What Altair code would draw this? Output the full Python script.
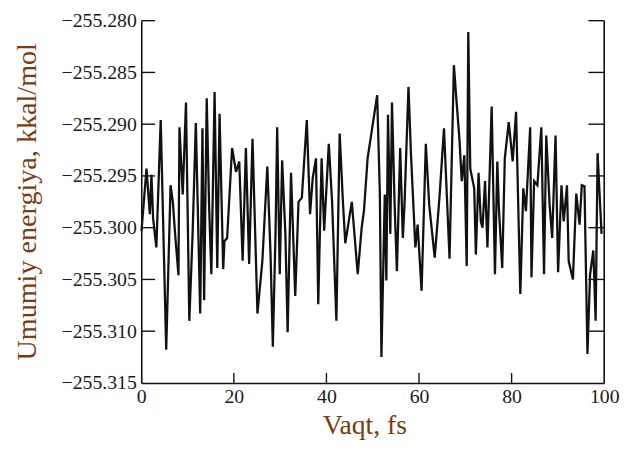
import altair as alt
import pandas as pd

# Time (fs) and total energy (kcal/mol)
time_fs = [
    0.06, 1.13, 1.85, 2.20, 2.56, 3.26, 4.20, 5.39, 6.33, 6.82,
    7.31, 8.04, 8.25, 8.96, 9.66, 10.38, 11.09, 11.79, 12.73, 13.22,
    13.58, 14.14, 14.65, 15.14, 15.84, 16.42, 16.91, 17.70, 17.97, 18.55,
    19.62, 20.47, 21.17, 21.90, 22.60, 23.30, 24.03, 25.10, 26.16, 27.23,
    27.93, 28.42, 29.00, 29.36, 29.91, 30.43, 31.13, 31.62, 32.35, 33.26,
    33.97, 34.69, 35.76, 36.46, 37.04, 37.74, 38.23, 38.96, 39.51, 40.51,
    41.22, 42.15, 42.86, 43.56, 44.07, 45.48, 46.76, 47.61, 48.12, 48.89,
    50.96, 51.54, 51.88, 52.60, 52.94, 53.30, 53.80, 54.16, 54.73, 55.22,
    55.93, 56.50, 56.86, 57.72, 58.27, 59.21, 59.70, 60.55, 61.47, 62.20,
    63.39, 64.46, 65.39, 66.59, 67.53, 68.17, 68.72, 69.23, 69.79, 70.30,
    70.64, 71.07, 71.92, 72.28, 72.86, 73.35, 73.71, 74.26, 74.78, 75.69,
    76.40, 76.91, 77.25, 77.97, 78.53, 79.38, 80.23, 80.96, 81.88, 82.52,
    83.09, 84.01, 84.29, 84.86, 85.57, 86.42, 87.00, 87.48, 88.21, 88.76,
    89.49, 90.04, 90.77, 91.26, 91.96, 92.32, 93.24, 93.97, 94.67, 95.16,
    95.74, 96.38, 96.95, 97.65, 98.15, 98.57, 99.08, 99.43,
]
energy = [
    -255.3003, -255.2943, -255.2987, -255.2949, -255.2991, -255.3019, -255.2896, -255.3118, -255.2959, -255.2975,
    -255.3006, -255.3046, -255.2903, -255.2968, -255.2879, -255.3090, -255.3006, -255.2899, -255.3083, -255.2904,
    -255.3070, -255.2875, -255.2978, -255.3045, -255.2869, -255.3039, -255.2890, -255.3040, -255.3013, -255.3010,
    -255.2923, -255.2946, -255.2936, -255.3032, -255.2923, -255.3035, -255.2914, -255.3083, -255.3032, -255.2941,
    -255.3026, -255.3115, -255.3006, -255.2903, -255.3045, -255.2935, -255.3006, -255.3101, -255.2947, -255.3066,
    -255.2975, -255.2971, -255.2896, -255.2987, -255.2952, -255.2933, -255.3074, -255.2933, -255.3003, -255.2919,
    -255.2975, -255.3090, -255.2909, -255.2975, -255.3015, -255.2975, -255.3045, -255.3000, -255.2983, -255.2933,
    -255.2872, -255.2968, -255.3125, -255.2968, -255.3051, -255.2891, -255.3006, -255.2879, -255.2978, -255.3042,
    -255.2923, -255.3010, -255.2978, -255.2864, -255.2930, -255.3019, -255.2997, -255.3061, -255.2919, -255.2978,
    -255.3029, -255.2968, -255.2904, -255.3030, -255.2843, -255.2882, -255.2914, -255.2955, -255.2930, -255.3037,
    -255.2811, -255.2943, -255.2962, -255.3026, -255.2947, -255.2994, -255.3000, -255.2955, -255.3019, -255.2883,
    -255.3045, -255.2936, -255.2981, -255.3039, -255.2933, -255.2898, -255.2936, -255.2888, -255.3064, -255.2962,
    -255.2984, -255.2903, -255.3048, -255.2955, -255.2959, -255.2903, -255.3045, -255.2911, -255.2978, -255.3010,
    -255.2911, -255.3043, -255.2959, -255.2994, -255.2959, -255.3032, -255.3050, -255.2967, -255.2997, -255.2959,
    -255.2960, -255.3122, -255.3045, -255.3022, -255.3090, -255.2928, -255.2975, -255.3006,
]

y_tick_values = [-255.280, -255.285, -255.290, -255.295, -255.300, -255.305, -255.310, -255.315]
inner_y_ticks = [-255.280, -255.285, -255.290, -255.295, -255.300, -255.305, -255.310]
x_tick_values = [0, 20, 40, 60, 80, 100]
inner_x_ticks = [20, 40, 60, 80]

W, H = 469, 367
INK = "#111111"
TITLE_COLOR = "#7b3a12"
SERIF = "Liberation Serif"

xs = alt.Scale(domain=[0, 100], nice=False)
ys = alt.Scale(domain=[-255.315, -255.280], nice=False, zero=False)

x_axis = alt.Axis(
    values=x_tick_values, format="d", title="Vaqt, fs",
    ticks=False, tickSize=0, grid=False,
    domainColor=INK, domainWidth=1.6,
    labelFont=SERIF, labelFontSize=20, labelColor="#1a1a1a", labelPadding=4,
    labelFlush=False,
    titleFont=SERIF, titleFontSize=28, titleFontWeight="normal",
    titleColor=TITLE_COLOR, titleX=226, titleY=51,
    titleBaseline="alphabetic", titleAlign="center",
)
y_axis = alt.Axis(
    values=y_tick_values, format=".3f",
    title="Umumiy energiya, kkal/mol",
    ticks=False, tickSize=0, grid=False,
    domainColor=INK, domainWidth=1.6,
    labelFont=SERIF, labelFontSize=20, labelColor="#1a1a1a", labelPadding=5,
    labelFlush=False,
    titleFont=SERIF, titleFontSize=28.5, titleFontWeight="normal",
    titleColor=TITLE_COLOR, titleAngle=270, titleX=-116, titleY=183,
    titleBaseline="middle", titleAlign="center",
)

df = pd.DataFrame({"t": time_fs, "e": energy})

line = alt.Chart(df).mark_line(color=INK, strokeWidth=2.3).encode(
    x=alt.X("t:Q", scale=xs, axis=x_axis),
    y=alt.Y("e:Q", scale=ys, axis=y_axis),
)

ydf = pd.DataFrame({"e": inner_y_ticks})
xdf = pd.DataFrame({"t": inner_x_ticks})

left_ticks = alt.Chart(ydf).mark_rule(color=INK, strokeWidth=1.4).encode(
    y=alt.Y("e:Q", scale=ys, axis=y_axis), x=alt.value(0), x2=alt.value(14)
)
right_ticks = alt.Chart(ydf).mark_rule(color=INK, strokeWidth=1.4).encode(
    y=alt.Y("e:Q", scale=ys, axis=y_axis), x=alt.value(W - 16), x2=alt.value(W)
)
bottom_ticks = alt.Chart(xdf).mark_rule(color=INK, strokeWidth=1.4).encode(
    x=alt.X("t:Q", scale=xs, axis=x_axis), y=alt.value(H), y2=alt.value(H - 10)
)
right_frame = alt.Chart(xdf.head(1)).mark_rule(color=INK, strokeWidth=1.6).encode(
    x=alt.value(W), y=alt.value(0), y2=alt.value(H)
)

chart = (
    alt.layer(line, left_ticks, right_ticks, bottom_ticks, right_frame)
    .properties(
        width=W, height=H,
        autosize=alt.AutoSizeParams(type="none"),
        padding={"left": 135, "top": 10, "right": 16, "bottom": 57},
        background="white",
    )
    .configure_view(strokeWidth=0)
)

chart.save("out.html", embed_options={"renderer": "svg", "actions": False})
